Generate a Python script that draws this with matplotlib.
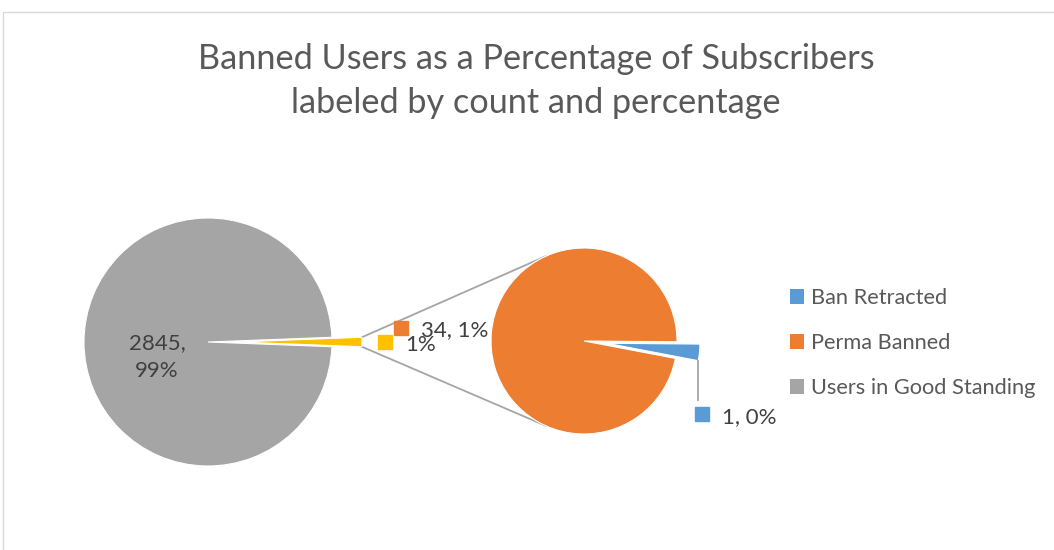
import numpy as np
import matplotlib.pyplot as plt
from matplotlib.patches import Patch, Rectangle

plt.rcParams['font.family'] = ['Lato', 'DejaVu Sans']

# Data
labels = ['Ban Retracted', 'Perma Banned', 'Users in Good Standing']
counts = [1, 34, 2845]
colors = ['#5B9BD5', '#ED7D31', '#A5A5A5']
other_color = '#FFC000'

retracted, perma, good = counts
total = sum(counts)
other = retracted + perma

def pct(v):
    return f"{round(100 * v / total):.0f}%"

fig = plt.figure(figsize=(10.54, 5.5), dpi=100)
ax = fig.add_axes([0, 0, 1, 1])

# outer chart border (Excel style)
fig.patches.append(Rectangle((3 / 1054, -0.1), 1.2, 1 - 12 / 550 + 0.1,
                             transform=fig.transFigure, fill=False,
                             edgecolor='#D9D9D9', linewidth=1))

wp = dict(edgecolor='white', linewidth=0.8)

# main pie (explode is an absolute offset in data units)
c1, r1, ex1 = (208, 208), 124, 30
half1 = other / total * 180
ax.pie([other, good], center=c1, radius=r1, startangle=-half1,
       explode=[ex1, 0], colors=[other_color, colors[2]], wedgeprops=wp)

# secondary pie
c2, r2, ex2 = (584, 209), 93, 23
ang_r = retracted / other * 360
start2 = -ang_r - 0.5
ax.pie([retracted, perma], center=c2, radius=r2, startangle=start2,
       explode=[ex2, 0], colors=colors[:2], wedgeprops=wp)

ax.set_xlim(0, 1054)
ax.set_ylim(0, 550)
ax.set_aspect('equal')
ax.axis('off')

# connector lines
apex = np.array([c1[0] + ex1, c1[1]])
for s, a2 in [(1, 114.5), (-1, -114.5)]:
    p1 = apex + r1 * np.array([np.cos(np.radians(s * half1)), np.sin(np.radians(s * half1))])
    p2 = np.array(c2) + r2 * np.array([np.cos(np.radians(a2)), np.sin(np.radians(a2))])
    ax.plot([p1[0], p2[0]], [p1[1], p2[1]], color='#A5A5A5', lw=1.3, zorder=0)

# leader for the small blue slice
mid = np.radians(start2 + ang_r / 2)
shift = np.array(c2) + ex2 * np.array([np.cos(mid), np.sin(mid)])
low = shift + r2 * np.array([np.cos(np.radians(start2)), np.sin(np.radians(start2))])
ax.plot([low[0], low[0]], [low[1], 150], color='#A5A5A5', lw=1.3)

txt = '#404040'
fs = 16
ax.text(157, 193, f"{good},\n{pct(good)}", ha='center', va='center',
        fontsize=fs, color=txt, linespacing=1.45)

ax.plot(385, 208, 's', color=other_color, ms=9.5)
ax.text(405, 205, pct(other), ha='left', va='center', fontsize=fs, color=txt)

ax.plot(401, 222, 's', color=colors[1], ms=9.5)
ax.text(421, 220, f"{perma}, {pct(perma)}", ha='left', va='center', fontsize=fs, color=txt)

ax.plot(702, 136, 's', color=colors[0], ms=9.5)
ax.text(722, 133, f"{retracted}, {pct(retracted)}", ha='left', va='center', fontsize=fs, color=txt)

ax.text(536, 469, "Banned Users as a Percentage of Subscribers\nlabeled by count and percentage",
        ha='center', va='center', fontsize=24.7, color='#595959', linespacing=1.45)

handles = [Patch(facecolor=c, edgecolor='none') for c in colors]
leg = ax.legend(handles, labels, loc='center left', bbox_to_anchor=(779 / 1054, 207 / 550),
                frameon=False, fontsize=15.7, handlelength=0.65, handleheight=0.65,
                handletextpad=0.3, labelspacing=1.15, borderpad=0)
for t in leg.get_texts():
    t.set_color('#595959')

fig.savefig('out.png', dpi=100)
